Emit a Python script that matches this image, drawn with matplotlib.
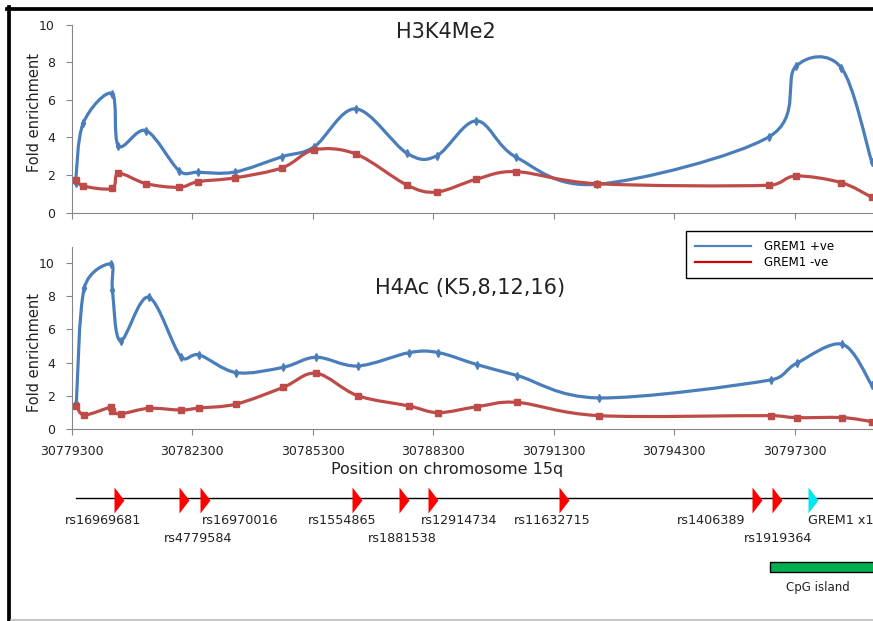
import numpy as np
import matplotlib
matplotlib.use('Agg')
import matplotlib.pyplot as plt
import matplotlib.transforms as mtransforms
from matplotlib.path import Path
from matplotlib.patches import PathPatch, Rectangle
from matplotlib.lines import Line2D

plt.rcParams['font.family'] = ['DejaVu Sans']

# ---- data ----
top_pos = [30779400, 30779590, 30780310, 30780470, 30781160, 30781980, 30782450, 30783360,
           30784550, 30785340, 30786380, 30787650, 30788390, 30789380, 30790370, 30792390,
           30796670, 30797330, 30798460, 30799220]
top_pos_ve = [1.56, 4.75, 6.33, 3.55, 4.36, 2.23, 2.15, 2.16, 2.98, 3.50,
              5.52, 3.16, 3.02, 4.88, 2.95, 1.51, 4.04, 7.77, 7.71, 2.71]
top_neg_ve = [1.76, 1.42, 1.29, 2.09, 1.54, 1.35, 1.65, 1.85, 2.39, 3.34,
              3.12, 1.47, 1.10, 1.78, 2.18, 1.54, 1.46, 1.95, 1.60, 0.82]

bot_pos = [30779420, 30779620, 30780280, 30780320, 30780520, 30781220, 30782020, 30782480,
           30783400, 30784570, 30785390, 30786420, 30787710, 30788430, 30789400, 30790400,
           30792430, 30796710, 30797350, 30798490, 30799220]
bot_pos_ve = [1.53, 8.52, 9.97, 8.37, 5.31, 7.95, 4.35, 4.46, 3.39, 3.71, 4.32,
              3.79, 4.60, 4.60, 3.87, 3.21, 1.86, 2.95, 3.95, 5.10, 2.64]
bot_neg_ve = [1.40, 0.83, 1.30, 1.05, 0.89, 1.23, 1.13, 1.25, 1.49, 2.50, 3.35,
              2.00, 1.37, 0.97, 1.33, 1.59, 0.79, 0.79, 0.67, 0.67, 0.43]

snp_names = ['rs16969681', 'rs4779584', 'rs16970016', 'rs1554865', 'rs1881538',
             'rs12914734', 'rs11632715', 'rs1406389', 'rs1919364']
snp_loc = [30780360, 30781980, 30782510, 30786280, 30787460, 30788180, 30791440,
           30796230, 30796730]
exon_name = 'GREM1 x1'
exon_loc = 30797640
cpg_start, cpg_end = 30796700, 30800300

x_ticks = list(range(30779300, 30797301, 3000))
series_names = ['GREM1 +ve', 'GREM1 -ve']

# ---- layout (pixels of the 873x621 picture) ----
W, H = 873, 621
x_min, x_max = 30779300, 30800300
px_per_unit = 0.04017
ax_left = 71.5
blue, red = '#4A7EBB', '#BE4B48'
grey = '#868686'

# label offsets (px) from triangle and text row for each SNP
lab_dx = [-11, 19, 40, -10, 3, 31, -7, -40, 6]
lab_row = [0, 1, 0, 0, 1, 0, 0, 0, 1]
row_y = [521, 538]


def fx(px):
    return px / W


def fy(py):
    return 1 - py / H


fig = plt.figure(figsize=(W / 100, H / 100), dpi=100)
ax_w = (x_max - x_min) * px_per_unit


def make_axes(top_px, bottom_px, ymax, labels):
    ax = fig.add_axes([fx(ax_left), fy(bottom_px), ax_w / W, (bottom_px - top_px) / H])
    ax.set_xlim(x_min, x_max)
    ax.set_ylim(0, ymax)
    for s in ['top', 'right']:
        ax.spines[s].set_visible(False)
    for s in ['left', 'bottom']:
        ax.spines[s].set_color(grey)
        ax.spines[s].set_linewidth(0.8)
    ax.set_yticks(range(0, 11, 2))
    ax.set_xticks(x_ticks, [str(t) for t in x_ticks] if labels else [])
    ax.tick_params(direction='out', length=4.5, width=0.8, color=grey,
                   labelsize=9, labelcolor='#222222', pad=7.5)
    return ax


def smooth(ax, xs, ys):
    # Excel style smoothed line: Catmull-Rom bezier in screen space
    pts = ax.transData.transform(np.column_stack([xs, ys]))
    n = len(pts)
    verts = [pts[0]]
    codes = [Path.MOVETO]
    for i in range(n - 1):
        p0, p1 = pts[max(i - 1, 0)], pts[i]
        p2, p3 = pts[i + 1], pts[min(i + 2, n - 1)]
        d1 = np.hypot(*(p2 - p1))
        t1 = (p2 - p0) / 6
        t2 = (p3 - p1) / 6
        for t in (t1, t2):
            ln = np.hypot(*t)
            if ln > 0.5 * d1:
                t *= 0.5 * d1 / ln
        verts += [p1 + t1, p2 - t2, p2]
        codes += [Path.CURVE4] * 3
    return Path(ax.transData.inverted().transform(np.array(verts)), codes)


def draw_series(ax, xs, ys, color, marker, ms):
    ax.add_patch(PathPatch(smooth(ax, xs, ys), fill=False, edgecolor=color,
                           lw=2.3, capstyle='round', joinstyle='round'))
    ax.plot(xs, ys, ls='none', marker=marker, ms=ms, color=color, mec=color)


ax1 = make_axes(24.5, 212.7, 10, False)
ax2 = make_axes(246.7, 428.7, 11, True)

draw_series(ax1, top_pos, top_pos_ve, blue, 'd', 4)
draw_series(ax1, top_pos, top_neg_ve, red, 's', 5)
draw_series(ax2, bot_pos, bot_pos_ve, blue, 'd', 4)
draw_series(ax2, bot_pos, bot_neg_ve, red, 's', 5)

fig.text(fx(446), fy(32), 'H3K4Me2', fontsize=15, ha='center', va='center', color='#222222')
fig.text(fx(470), fy(288), 'H4Ac (K5,8,12,16)', fontsize=15, ha='center', va='center',
         color='#222222')
for yc in (113, 352.6):
    fig.text(fx(34.5), fy(yc), 'Fold enrichment', fontsize=10.5, rotation=90,
             ha='center', va='center', color='#222222')
fig.text(fx(447), fy(469.3), 'Position on chromosome 15q', fontsize=11.5,
         ha='center', va='center', color='#222222')

leg_handles = [Line2D([], [], color='#4F81BD', lw=1.6), Line2D([], [], color='#D00000', lw=1.6)]
leg = fig.legend(leg_handles, series_names, loc='upper left',
                 bbox_to_anchor=(fx(685.7), fy(231), 0.3, 0), mode='expand',
                 borderaxespad=0, fontsize=8.5, borderpad=0.75, labelspacing=0.3,
                 handlelength=4.8, handletextpad=1.1, fancybox=False, framealpha=1)
leg.get_frame().set_edgecolor('black')
leg.get_frame().set_linewidth(1)

# ---- SNP track below the plots, on the same genomic scale ----
trk = mtransforms.blended_transform_factory(ax2.transData, fig.transFigure)
ax2.add_line(Line2D([top_pos[0], x_max], [fy(497.7)] * 2, transform=trk,
                    color='black', lw=1, clip_on=False))
tri = [(0, -1), (0.77, 0), (0, 1)]
ax2.scatter(snp_loc, [fy(500)] * len(snp_loc), transform=trk, marker=tri, s=350,
            color='#FF0000', lw=0, clip_on=False, zorder=5)
ax2.scatter([exon_loc], [fy(500)], transform=trk, marker=tri, s=350,
            color='#00E8F0', lw=0, clip_on=False, zorder=5)
for name, loc, dx, r in zip(snp_names, snp_loc, lab_dx, lab_row):
    ax2.annotate(name, xy=(loc, fy(row_y[r])), xycoords=trk, xytext=(dx, 0),
                 textcoords='offset pixels', ha='center', va='center',
                 fontsize=9.2, color='#222222', annotation_clip=False)
ax2.annotate(exon_name, xy=(exon_loc, fy(row_y[0])), xycoords=trk, ha='left',
             va='center', fontsize=9.2, color='#222222', annotation_clip=False)

ax2.add_patch(Rectangle((cpg_start, fy(572)), cpg_end - cpg_start, (572 - 562.3) / H,
                        transform=trk, facecolor='#00B050', edgecolor='black',
                        lw=1, clip_on=False))
fig.text(fx(817.5), fy(587.3), 'CpG island', fontsize=8.5, ha='center', va='center',
         color='#222222')

# outer frame of the original figure
fig.add_artist(Line2D([fx(9.2), fx(9.2)], [fy(7.3), 0], color='black', lw=2.7))
fig.add_artist(Line2D([fx(7.3), 1], [fy(9.2)] * 2, color='black', lw=2.7))
fig.add_artist(Line2D([fx(11), 1], [fy(619.5)] * 2, color='#BBBBBB', lw=1.2))

fig.savefig('out.png', dpi=100)
